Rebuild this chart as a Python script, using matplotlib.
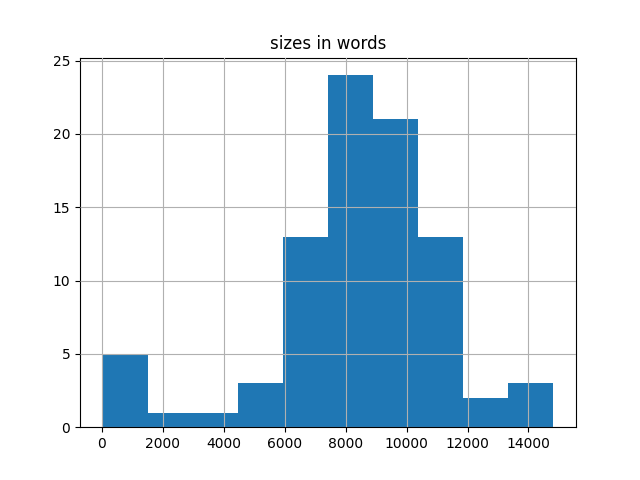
import numpy as np
import matplotlib
matplotlib.use("Agg")
import matplotlib.pyplot as plt

# histogram of document sizes (10 bins)
SIZE_MIN = 20
SIZE_MAX = 14820
COUNTS = [5, 1, 1, 3, 13, 24, 21, 13, 2, 3]

edges = np.linspace(SIZE_MIN, SIZE_MAX, len(COUNTS) + 1)
centers = (edges[:-1] + edges[1:]) / 2

fig, ax = plt.subplots(figsize=(6.4, 4.8), dpi=100)
ax.hist(centers, bins=edges, weights=COUNTS, color="#1f77b4")
ax.set_axisbelow(False)
ax.grid(True)
ax.set_title("sizes in words")

plt.savefig("out.png", dpi=100)
plt.close()
